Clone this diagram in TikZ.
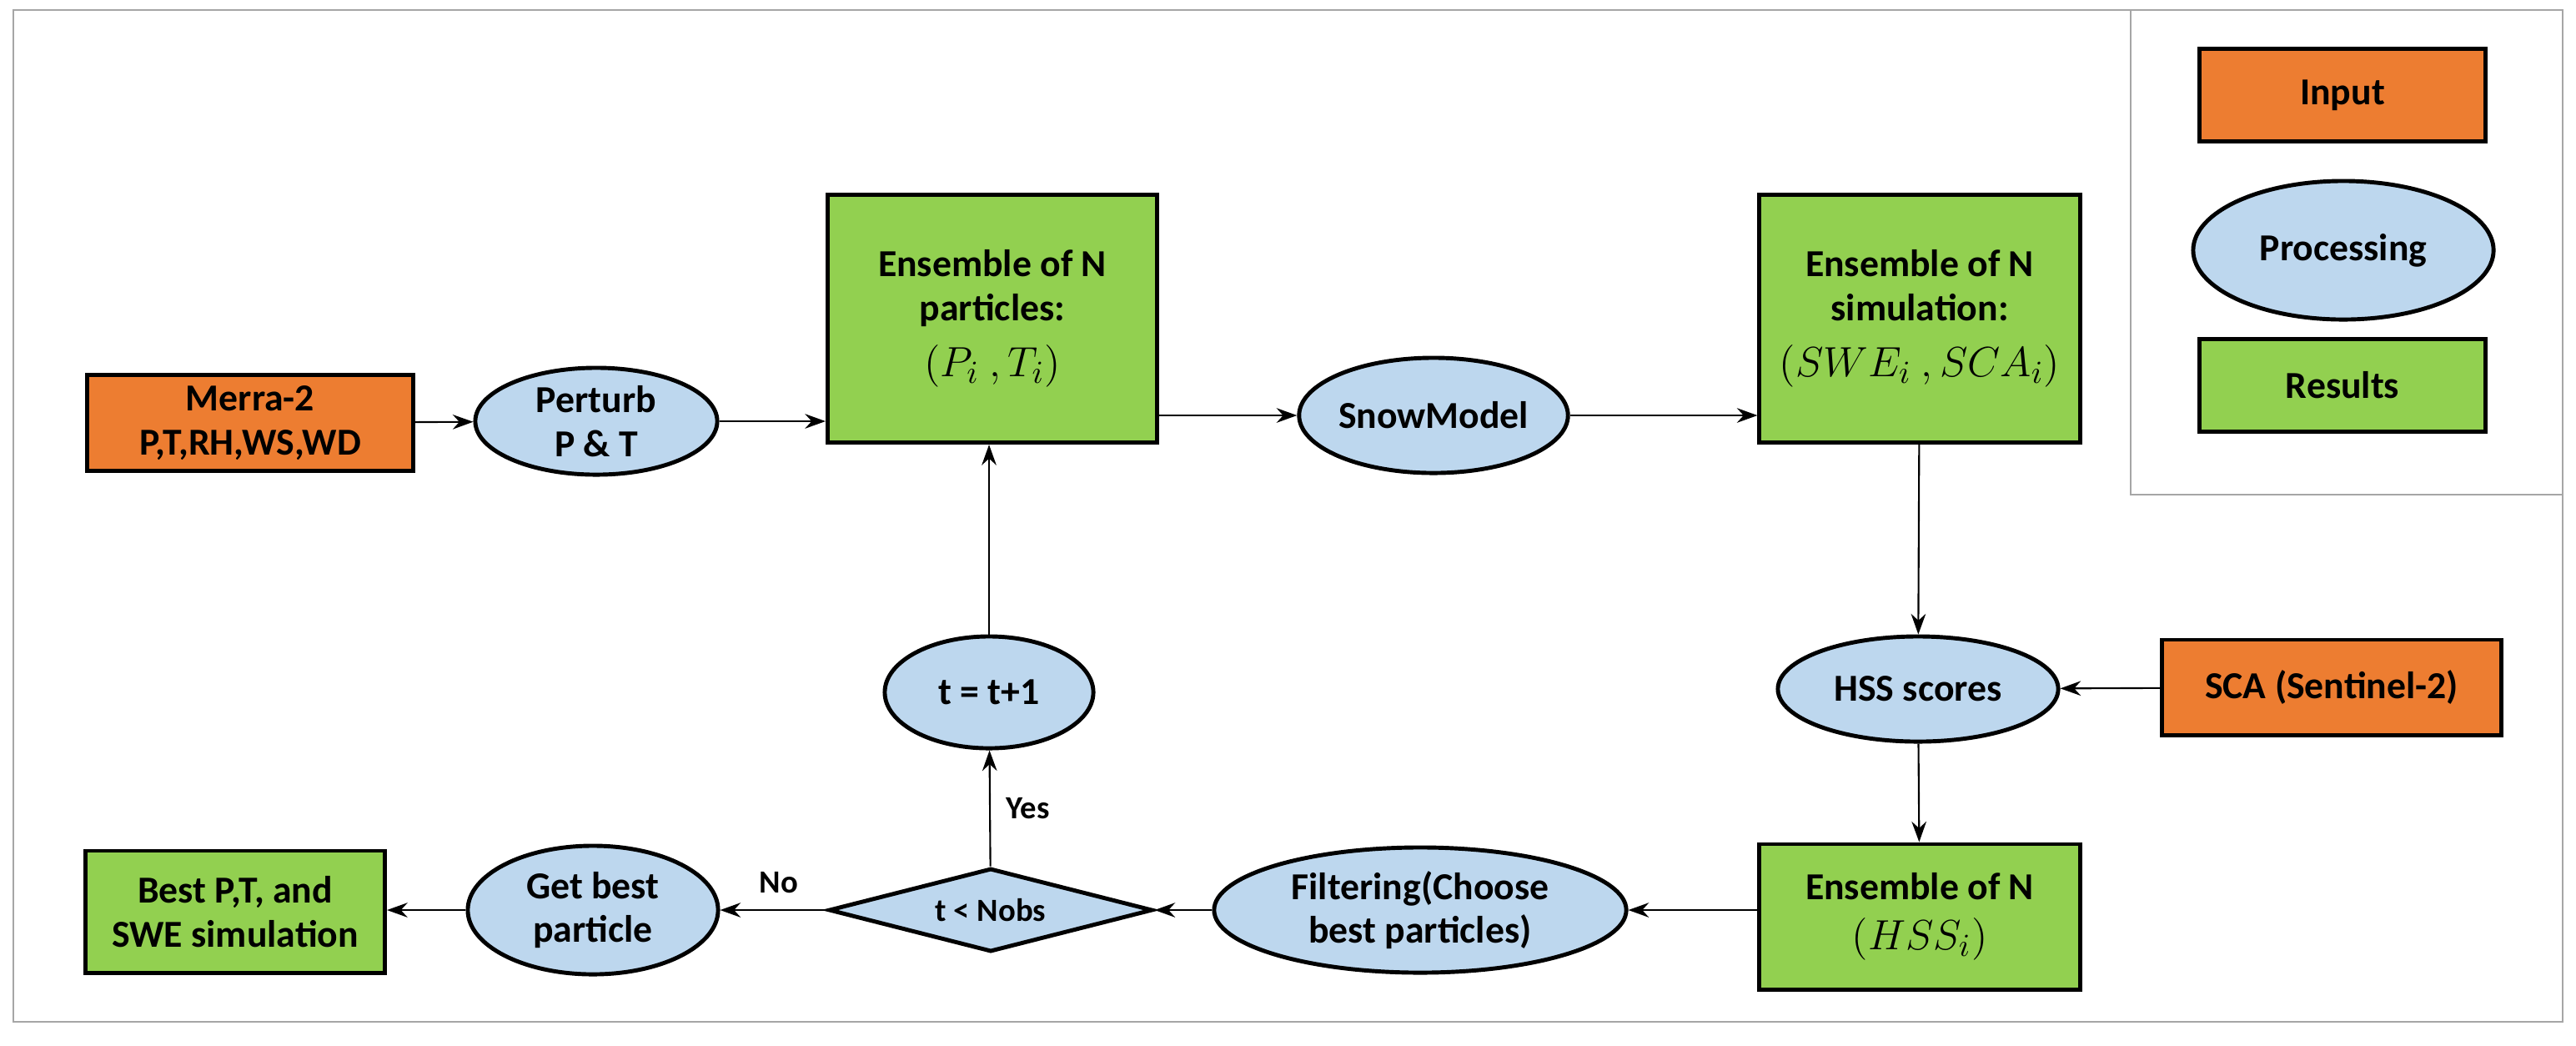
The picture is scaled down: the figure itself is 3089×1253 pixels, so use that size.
\documentclass[tikz,border=0pt]{standalone}
\usepackage{amsmath}
\usepackage{fontspec}
\setmainfont{Carlito}
\usetikzlibrary{shapes.geometric,arrows.meta}
\definecolor{inp}{HTML}{ED7D31}
\definecolor{proc}{HTML}{BDD7EE}
\definecolor{res}{HTML}{92D050}
\newcommand{\mth}[1]{{\fontsize{15}{17}\selectfont$\mathbf{(}#1\mathbf{)}$}}
\begin{document}
\begin{tikzpicture}[x=0.01cm,y=-0.01cm,
  base/.style={draw=black,line width=1.4pt,font=\fontsize{13}{15}\selectfont\bfseries,align=center,inner sep=0pt},
  inbox/.style={base,fill=inp,rectangle},
  resbox/.style={base,fill=res,rectangle},
  proc/.style={base,fill=proc,ellipse},
  dia/.style={base,fill=proc,diamond,aspect=3.9},
  arr/.style={-{Stealth[length=7pt,width=5pt]},line width=0.6pt}]
\useasboundingbox (0,0) rectangle (3089,1253);
\draw[gray!70,line width=0.6pt] (16,12) rectangle (3073,1225);
\draw[gray!70,line width=0.6pt] (2555,12) -- (2555,593) -- (3073,593);
% legend
\node[inbox,minimum width=3.42cm,minimum height=1.11cm] (lin) at (2809,114) {Input};
\node[proc,minimum width=3.6cm,minimum height=1.66cm] (lproc) at (2810,300) {Processing};
\node[resbox,minimum width=3.42cm,minimum height=1.11cm] (lres) at (2809,462) {Results};
% main
\node[inbox,minimum width=3.9cm,minimum height=1.15cm] (merra) at (300,507) {Merra-2\\P,T,RH,WS,WD};
\node[proc,minimum width=2.9cm,minimum height=1.28cm] (pert) at (715,505) {Perturb\\P \& T};
\node[resbox,minimum width=3.95cm,minimum height=2.97cm] (ens) at (1190,382) {Ensemble of N\\particles:\\[4pt] \mth{P_i\ ,T_i}};
\node[proc,minimum width=2.96cm,minimum height=1.38cm] (snow) at (1719,498) {SnowModel};
\node[resbox,minimum width=3.84cm,minimum height=2.97cm] (sim) at (2302,382) {Ensemble of N\\simulation:\\[4pt] \mth{SWE_i\ ,SCA_i}};
\node[proc,minimum width=3.36cm,minimum height=1.26cm] (hss) at (2300,826) {HSS scores};
\node[inbox,minimum width=4.07cm,minimum height=1.14cm] (sca) at (2796,824) {SCA (Sentinel-2)};
\node[resbox,minimum width=3.84cm,minimum height=1.74cm] (ensh) at (2302,1099) {Ensemble of N\\[2pt] \mth{HSS_i}};
\node[proc,minimum width=4.94cm,minimum height=1.5cm] (filt) at (1703,1091) {Filtering(Choose\\best particles)};
\node[dia,minimum width=3.88cm,minimum height=1.0cm,font=\fontsize{11}{13}\selectfont\bfseries] (dec) at (1188,1091) {t {<} Nobs};
\node[proc,minimum width=3.0cm,minimum height=1.54cm] (get) at (711,1091) {Get best\\particle};
\node[resbox,minimum width=3.59cm,minimum height=1.46cm] (best) at (282,1093) {Best P,T, and\\SWE simulation};
\node[proc,minimum width=2.5cm,minimum height=1.34cm] (tt) at (1186,830) {t = t+1};
% arrows
\draw[arr] (merra) -- (pert);
\draw[arr] (pert) -- (ens.west|-pert);
\draw[arr] (ens.east|-snow) -- (snow);
\draw[arr] (snow) -- (sim.west|-snow);
\draw[arr] (sim) -- (hss);
\draw[arr] (sca) -- (hss);
\draw[arr] (hss) -- (ensh);
\draw[arr] (ensh.west|-filt) -- (filt);
\draw[arr] (filt) -- (dec);
\draw[arr] (dec) -- node[above,font=\fontsize{11}{13}\selectfont\bfseries,pos=0.45,yshift=2pt]{No} (get);
\draw[arr] (get) -- (best.east|-get);
\draw[arr] (dec) -- node[right,font=\fontsize{11}{13}\selectfont\bfseries,xshift=2pt]{Yes} (tt);
\draw[arr] (tt) -- (ens.south-|tt);
\end{tikzpicture}
\end{document}
